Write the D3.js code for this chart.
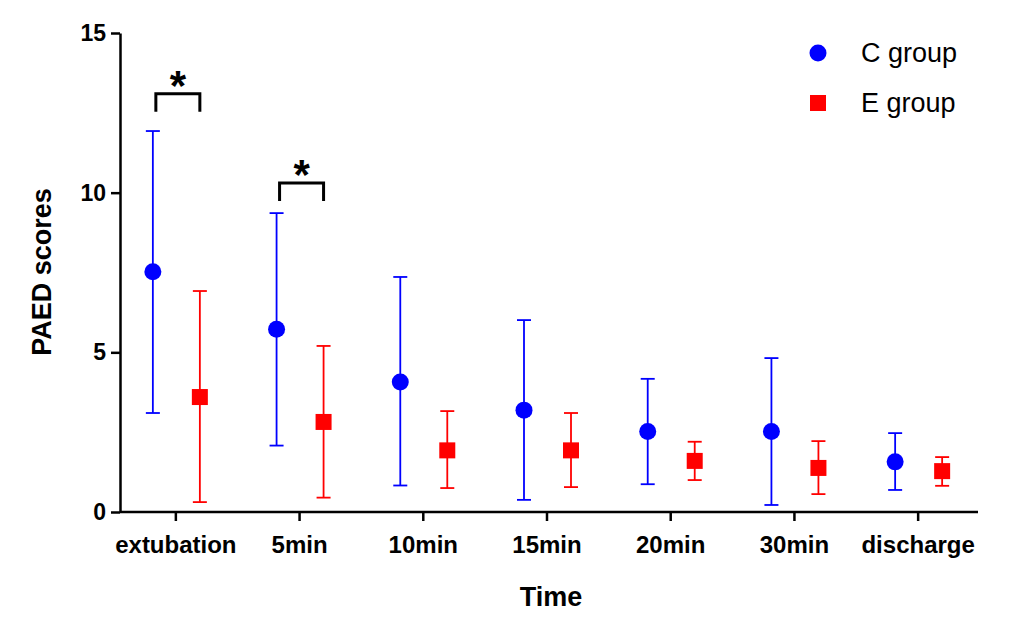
<!DOCTYPE html>
<html><head><meta charset="utf-8">
<script src="https://cdn.jsdelivr.net/npm/d3@7"></script>
<style>body{margin:0;background:#fff;font-family:Arial,"Liberation Sans",sans-serif}</style>
</head><body>
<script>
var categories = ["extubation","5min","10min","15min","20min","30min","discharge"];
var cMean = [7.52,5.72,4.07,3.19,2.52,2.52,1.57];
var cHigh = [11.93,9.36,7.36,6.01,4.17,4.82,2.47];
var cLow  = [3.1,2.08,0.83,0.38,0.87,0.22,0.69];
var eMean = [3.6,2.82,1.93,1.93,1.6,1.38,1.28];
var eHigh = [6.92,5.2,3.16,3.1,2.2,2.22,1.72];
var eLow  = [0.31,0.45,0.75,0.78,1.0,0.56,0.82];
var yTicks = [0,5,10,15];
var sigIndex = [0,1];
var sigLevel = [13.1,10.3];

var svg = d3.select("body").append("svg").attr("width",1024).attr("height",629);
var x = d3.scaleBand().domain(categories).range([114,980]);
var y = d3.scaleLinear().domain([0,15]).range([512,33]);
var off = 24;

svg.append("g").attr("transform","translate(120,0)")
  .call(d3.axisLeft(y).tickValues(yTicks).tickSize(9).tickSizeOuter(0))
  .call(function(g){g.selectAll("path,line").attr("stroke","#000").attr("stroke-width",2.5);
    g.selectAll("text").attr("font-size",23).attr("font-weight","bold").attr("dx",-2);});
svg.append("g").attr("transform","translate(0,512)")
  .call(d3.axisBottom(x).tickSize(9).tickSizeOuter(0))
  .call(function(g){g.selectAll("path,line").attr("stroke","#000").attr("stroke-width",2.5);
    g.select("path").attr("d","M120,0H978");
    g.selectAll("text").attr("font-size",24).attr("font-weight","bold").attr("dy","1.2em");});

svg.append("text").attr("x",551).attr("y",606).attr("text-anchor","middle")
  .attr("font-size",27).attr("font-weight","bold").text("Time");
svg.append("text").attr("transform","translate(51,272) rotate(-90)").attr("text-anchor","middle")
  .attr("font-size",27).attr("font-weight","bold").text("PAED scores");

function series(mean, hi, lo, dx, color, square){
  var g = svg.append("g");
  categories.forEach(function(c,i){
    var cx = x(c)+x.bandwidth()/2+dx;
    g.append("line").attr("x1",cx).attr("x2",cx).attr("y1",y(hi[i])).attr("y2",y(lo[i]))
      .attr("stroke",color).attr("stroke-width",1.8);
    [hi[i],lo[i]].forEach(function(v){
      g.append("line").attr("x1",cx-7).attr("x2",cx+7).attr("y1",y(v)).attr("y2",y(v))
        .attr("stroke",color).attr("stroke-width",1.8);
    });
    if(square) g.append("rect").attr("x",cx-8).attr("y",y(mean[i])-8).attr("width",16).attr("height",16).attr("fill",color);
    else g.append("circle").attr("cx",cx).attr("cy",y(mean[i])).attr("r",8.5).attr("fill",color);
  });
}
series(cMean,cHigh,cLow,-off+1,"#0000ff",false);
series(eMean,eHigh,eLow,off,"#ff0000",true);

sigIndex.forEach(function(i,k){
  var c = x(categories[i])+x.bandwidth()/2;
  var x1=c-off+4, x2=c+off, yy=y(sigLevel[k]);
  svg.append("path").attr("d","M"+x1+","+(yy+18)+"V"+yy+"H"+x2+"V"+(yy+18))
    .attr("fill","none").attr("stroke","#000").attr("stroke-width",3);
  svg.append("text").attr("x",(x1+x2)/2).attr("y",yy+6).attr("text-anchor","middle")
    .attr("font-size",42).attr("font-weight","bold").text("*");
});

var leg = [["C group","#0000ff",false],["E group","#ff0000",true]];
leg.forEach(function(d,i){
  var ly = 53+i*50;
  if(d[2]) svg.append("rect").attr("x",810).attr("y",ly-8).attr("width",16).attr("height",16).attr("fill",d[1]);
  else svg.append("circle").attr("cx",818).attr("cy",ly).attr("r",8.5).attr("fill",d[1]);
  svg.append("text").attr("x",861).attr("y",ly+9).attr("font-size",27).text(d[0]);
});
</script>
</body></html>
